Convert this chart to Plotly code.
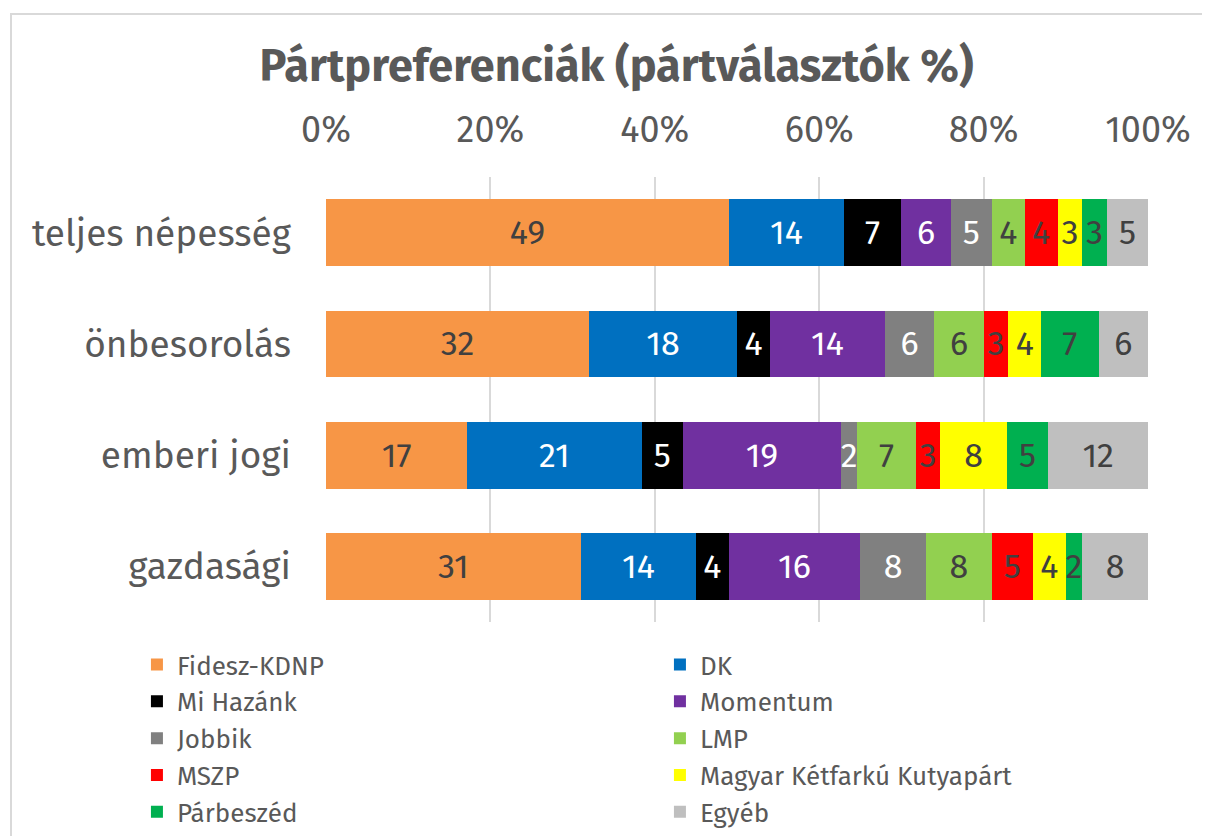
import plotly.graph_objects as go

categories = ["teljes népesség", "önbesorolás", "emberi jogi", "gazdasági"]
parties = ["Fidesz-KDNP", "DK", "Mi Hazánk", "Momentum", "Jobbik", "LMP",
           "MSZP", "Magyar Kétfarkú Kutyapárt", "Párbeszéd", "Egyéb"]
values = {
    "Fidesz-KDNP": [49, 32, 17, 31],
    "DK": [14, 18, 21, 14],
    "Mi Hazánk": [7, 4, 5, 4],
    "Momentum": [6, 14, 19, 16],
    "Jobbik": [5, 6, 2, 8],
    "LMP": [4, 6, 7, 8],
    "MSZP": [4, 3, 3, 5],
    "Magyar Kétfarkú Kutyapárt": [3, 4, 8, 4],
    "Párbeszéd": [3, 7, 5, 2],
    "Egyéb": [5, 6, 12, 8],
}
colors = ["#F79646", "#0070C0", "#000000", "#7030A0", "#808080", "#92D050",
          "#FF0000", "#FFFF00", "#00B050", "#BFBFBF"]
label_colors = ["#404040", "#FFFFFF", "#FFFFFF", "#FFFFFF", "#FFFFFF", "#404040",
                "#404040", "#404040", "#404040", "#404040"]
tick_vals = [0, 20, 40, 60, 80, 100]
tick_text = ["0%", "20%", "40%", "60%", "80%", "100%"]

FONT = "Fira Sans, Open Sans, sans-serif"
GRAY = "#595959"

fig = go.Figure()
for p, c, lc in zip(parties, colors, label_colors):
    fig.add_trace(go.Bar(
        y=categories, x=values[p], name=p, orientation="h",
        marker=dict(color=c, line=dict(width=0)),
        text=values[p], texttemplate="%{text}", textposition="inside",
        insidetextanchor="middle", textangle=0,
        insidetextfont=dict(color=lc, size=34, family=FONT),
        hoverinfo="name+x",
    ))

L, T, PW, PH = 318, 169, 822, 445
fig.update_layout(
    width=1210, height=836,
    barmode="stack", barnorm="percent", bargap=0.4,
    paper_bgcolor="white", plot_bgcolor="white",
    margin=dict(l=L, r=1210 - L - PW, t=T, b=836 - T - PH, autoexpand=False),
    font=dict(family=FONT, color=GRAY, size=32),
    uniformtext=dict(mode="show", minsize=34),
    title=dict(text="<b>Pártpreferenciák (pártválasztók %)</b>",
               x=0.503, xanchor="center", y=1 - 57 / 836, yanchor="middle",
               font=dict(size=45, color=GRAY, family=FONT)),
    xaxis=dict(side="top", range=[0, 100], tickvals=tick_vals, ticktext=tick_text,
               showgrid=True, gridcolor="#D9D9D9", gridwidth=2, zeroline=False,
               showline=False, ticks="", ticklabelstandoff=27,
               tickfont=dict(size=36, color=GRAY)),
    yaxis=dict(autorange="reversed", showgrid=False, zeroline=False, showline=False,
               ticks="", ticklabelstandoff=34, tickfont=dict(size=37, color=GRAY)),
    legend=dict(orientation="h", x=-0.23, xanchor="left", y=-0.043, yanchor="top",
                entrywidth=478, entrywidthmode="pixels", traceorder="normal",
                font=dict(size=26, color=GRAY), itemwidth=30, tracegroupgap=0),
    shapes=[dict(type="rect", xref="paper", yref="paper",
                 x0=(3 - L) / PW, x1=1.2, y0=-0.6, y1=(T + PH - 6) / PH,
                 line=dict(color="#D9D9D9", width=2), fillcolor="rgba(0,0,0,0)",
                 layer="below")],
)

fig.write_html("out.html")
